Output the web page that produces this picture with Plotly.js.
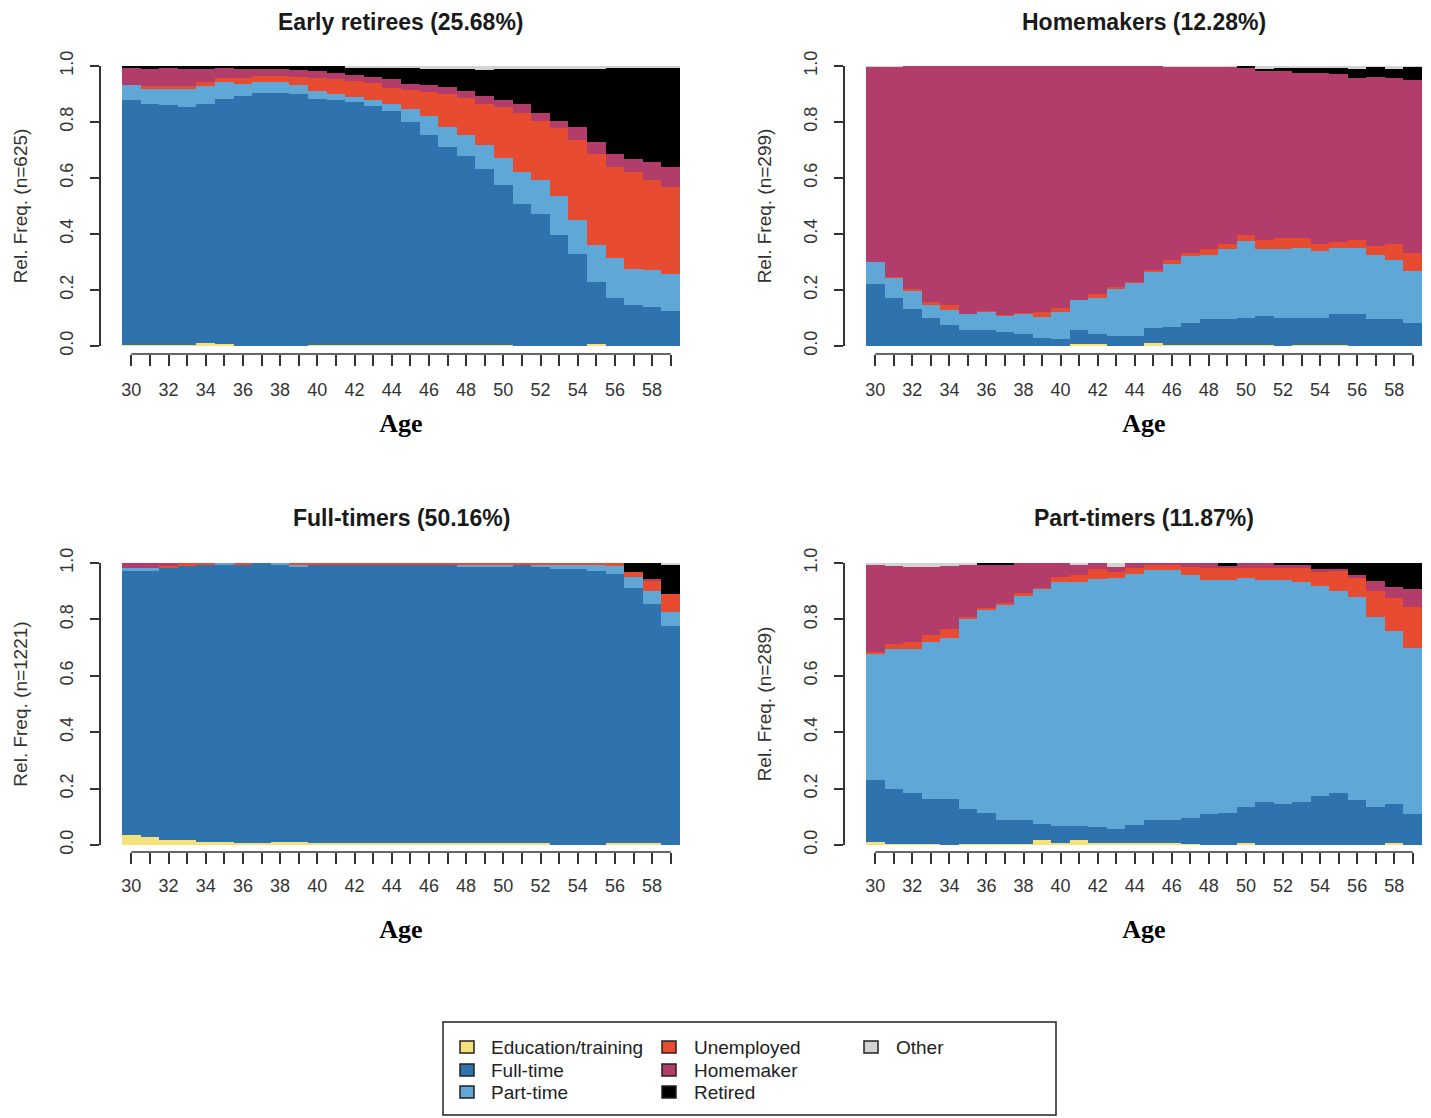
<!DOCTYPE html>
<html>
<head>
<meta charset="utf-8">
<script src="https://cdn.plot.ly/plotly-3.0.1.min.js"></script>
<style>html,body{margin:0;padding:0;background:#fff;overflow:hidden;}#chart{width:1431px;height:1118px;}</style>
</head>
<body>
<div id="chart"></div>
<script>
// ---------- data ----------
const ages = [30,31,32,33,34,35,36,37,38,39,40,41,42,43,44,45,46,47,48,49,50,51,52,53,54,55,56,57,58,59];
const stateNames = ["Education/training","Full-time","Part-time","Unemployed","Homemaker","Retired","Other"];
const stateColors = ["#F6E27A","#2E73AD","#5EA7D6","#E84C30","#B23D6A","#000000","#D3D3D3"];
const panelTitles = ["Early retirees (25.68%)","Homemakers (12.28%)","Full-timers (50.16%)","Part-timers (11.87%)"];
const yTitles = ["Rel. Freq. (n=625)","Rel. Freq. (n=299)","Rel. Freq. (n=1221)","Rel. Freq. (n=289)"];

// Early retirees
const er_edu = [.004,.004,.004,.004,.010,.006,0,0,0,0,.004,.004,.004,.004,.004,.004,.004,.004,.004,.004,.004,0,0,0,0,.006,0,0,0,0];
const er_ft  = [.874,.862,.856,.849,.855,.875,.893,.905,.905,.899,.877,.874,.868,.853,.835,.797,.751,.706,.674,.628,.570,.508,.471,.397,.328,.224,.171,.147,.141,.125];
const er_pt  = [.053,.053,.059,.066,.063,.063,.044,.039,.039,.033,.029,.021,.017,.020,.024,.044,.066,.072,.077,.085,.098,.113,.121,.138,.123,.129,.145,.129,.129,.132];
const er_un  = [0,.009,.009,.009,.016,.012,.021,.020,.020,.029,.046,.053,.057,.063,.059,.071,.087,.117,.132,.148,.181,.212,.211,.242,.283,.327,.322,.345,.324,.310];
const er_hm  = [.063,.060,.066,.060,.044,.038,.032,.024,.024,.024,.026,.024,.022,.021,.030,.021,.023,.026,.023,.028,.024,.032,.030,.028,.048,.042,.046,.048,.064,.071];
const er_ret = [.006,.012,.006,.012,.012,.006,.010,.012,.012,.015,.018,.024,.027,.034,.043,.058,.060,.066,.081,.092,.114,.123,.155,.183,.209,.263,.312,.327,.338,.358];
const er_oth = [0,0,0,0,0,0,0,0,0,0,0,0,.005,.005,.005,.005,.009,.009,.009,.015,.009,.012,.012,.012,.009,.009,.004,.004,.004,.004];

// Homemakers
const hm_edu = [0,0,0,0,0,0,0,0,0,0,0,.006,.006,0,0,.010,.004,.004,.004,.004,.004,.004,0,.004,.004,.004,0,0,0,0];
const hm_ft  = [.223,.172,.132,.101,.075,.056,.056,.049,.042,.030,.024,.050,.038,.037,.037,.053,.065,.079,.091,.091,.097,.103,.101,.097,.097,.111,.115,.095,.095,.083];
const hm_pt  = [.077,.071,.066,.045,.052,.057,.066,.059,.073,.073,.096,.108,.128,.168,.188,.204,.225,.237,.231,.250,.275,.241,.247,.250,.238,.236,.236,.231,.211,.184];
const hm_un  = [0,.005,.004,.012,.019,0,.003,.002,.004,.017,.014,0,.013,.004,.004,.006,.012,.013,.019,.020,.019,.032,.036,.033,.026,.020,.026,.031,.058,.065];
const hm_hm  = [.698,.750,.798,.842,.854,.887,.875,.890,.881,.880,.866,.836,.815,.791,.771,.727,.692,.665,.653,.633,.599,.602,.598,.592,.611,.599,.581,.605,.594,.618];
const hm_ret = [0,0,0,0,0,0,0,0,0,0,0,0,0,0,0,0,0,0,0,0,.006,.008,.013,.019,.019,.025,.032,.036,.032,.048];
const hm_oth = [.002,.002,0,0,0,0,0,0,0,0,0,0,0,0,0,0,.002,.002,.002,.002,0,.010,.005,.005,.005,.005,.010,.002,.010,.002];

// Full-timers
const ft_edu = [.037,.030,.019,.019,.012,.012,.006,.006,.012,.012,.006,.006,.006,.006,.006,.006,.006,.006,.006,.006,.006,.006,.006,0,0,0,.006,.006,.006,0];
const ft_ft  = [.936,.943,.962,.972,.983,.983,.989,.994,.983,.973,.989,.989,.989,.989,.989,.989,.989,.989,.981,.981,.981,.989,.980,.979,.979,.971,.955,.904,.849,.778];
const ft_pt  = [.008,.008,0,0,0,.005,0,0,.005,.010,0,0,0,0,0,0,0,0,.008,.008,.008,0,.009,.015,.015,.023,.027,.039,.044,.047];
const ft_un  = [0,0,.010,.009,.005,0,.005,0,0,.005,.005,.005,.005,.005,.005,.005,.005,.005,.005,.005,.005,.005,.005,.006,.006,.006,.012,.018,.038,.065];
const ft_hm  = [.019,.019,.009,0,0,0,0,0,0,0,0,0,0,0,0,0,0,0,0,0,0,0,0,0,0,0,0,0,.006,0];
const ft_ret = [0,0,0,0,0,0,0,0,0,0,0,0,0,0,0,0,0,0,0,0,0,0,0,0,0,0,0,.033,.057,.103];
const ft_oth = [0,0,0,0,0,0,0,0,0,0,0,0,0,0,0,0,0,0,0,0,0,0,0,0,0,0,0,0,0,.007];

// Part-timers
const pt_edu = [.011,.005,.005,.005,0,.005,.005,.005,.005,.019,.008,.019,.008,.008,.008,.008,.008,.004,0,0,.008,0,0,0,0,0,0,0,.008,0];
const pt_ft  = [.221,.195,.181,.157,.162,.124,.110,.085,.085,.057,.058,.047,.056,.050,.062,.082,.082,.093,.109,.115,.127,.153,.147,.153,.173,.186,.161,.135,.139,.109];
const pt_pt  = [.448,.494,.508,.557,.571,.675,.721,.763,.794,.832,.868,.868,.879,.888,.890,.885,.885,.860,.831,.825,.811,.787,.793,.781,.747,.715,.720,.675,.612,.591];
const pt_un  = [.006,.018,.025,.026,.033,.003,.003,.004,.008,.005,.018,.023,.035,.023,.023,.020,.020,.030,.043,.041,.037,.043,.043,.049,.047,.072,.065,.091,.116,.143];
const pt_hm  = [.310,.279,.266,.240,.225,.188,.156,.138,.108,.087,.048,.038,.022,.018,.017,.005,.005,.013,.017,.010,.017,.017,.012,.012,.012,.006,.011,.036,.041,.064];
const pt_ret = [0,0,0,0,0,0,.005,.005,0,0,0,0,0,0,0,0,0,0,0,.009,0,0,.005,.005,.021,.021,.043,.063,.084,.093];
const pt_oth = [.004,.009,.015,.015,.009,.005,0,0,0,0,0,.005,0,.013,0,0,0,0,0,0,0,0,0,0,0,0,0,0,0,0];

const panels = [
  [er_edu, er_ft, er_pt, er_un, er_hm, er_ret, er_oth],
  [hm_edu, hm_ft, hm_pt, hm_un, hm_hm, hm_ret, hm_oth],
  [ft_edu, ft_ft, ft_pt, ft_un, ft_hm, ft_ret, ft_oth],
  [pt_edu, pt_ft, pt_pt, pt_un, pt_hm, pt_ret, pt_oth]
];

// ---------- layout geometry (pixels) ----------
const W = 1431, H = 1118;
const px = v => v / W;
const py = v => 1 - v / H;
const plotX = [[122,680],[866,1422],[122,680],[866,1422]];
const plotY = [[66,346],[66,346],[563,845],[563,845]];
const yAxisPos = [100, 844, 100, 844];
const xAxisPos = [354, 354, 852, 852];
const xLabStandoff = [8, 8, 6, 6];
const xTitleStandoff = [15, 15, 25, 25];
const titleY = [22, 22, 518, 518];

const SANS = "Liberation Sans, Arial, sans-serif";
const SERIF = "Liberation Serif, Times New Roman, serif";
const AX = "#333333";

const traces = [];
panels.forEach((series, p) => {
  const sfx = p === 0 ? "" : String(p + 1);
  series.forEach((vals, s) => {
    traces.push({
      type: "bar",
      x: ages,
      y: vals,
      name: stateNames[s],
      xaxis: "x" + sfx,
      yaxis: "y" + sfx,
      marker: {color: stateColors[s], line: {width: 0}},
      showlegend: false,
      hoverinfo: "x+y+name"
    });
  });
});

const layout = {
  width: W, height: H,
  margin: {l: 0, r: 0, t: 0, b: 0},
  paper_bgcolor: "#ffffff",
  plot_bgcolor: "#ffffff",
  barmode: "stack",
  bargap: 0,
  showlegend: false,
  font: {family: SANS, color: AX},
  annotations: [],
  shapes: []
};

for (let p = 0; p < 4; p++) {
  const sfx = p === 0 ? "" : String(p + 1);
  layout["xaxis" + sfx] = {
    domain: [px(plotX[p][0]), px(plotX[p][1])],
    range: [29.5, 59.5],
    anchor: "free",
    position: py(xAxisPos[p]),
    tickmode: "linear", tick0: 30, dtick: 2,
    ticks: "outside", ticklen: 11, tickwidth: 1.5, tickcolor: AX,
    minor: {tick0: 30, dtick: 1, ticks: "outside", ticklen: 11, tickwidth: 1.5, tickcolor: AX},
    ticklabelstandoff: xLabStandoff[p],
    tickfont: {family: SANS, size: 18, color: AX},
    showgrid: false, zeroline: false, showline: false,
    fixedrange: true,
    title: {text: "Age", font: {family: SERIF, size: 26, weight: "bold", color: "#000"}, standoff: xTitleStandoff[p]}
  };
  layout["yaxis" + sfx] = {
    domain: [py(plotY[p][1]), py(plotY[p][0])],
    range: [0, 1],
    anchor: "free",
    position: px(yAxisPos[p]),
    tickmode: "linear", tick0: 0, dtick: 0.2, tickformat: ".1f",
    tickangle: -90,
    ticks: "outside", ticklen: 9, tickwidth: 1.5, tickcolor: AX,
    ticklabelstandoff: 10,
    tickfont: {family: SANS, size: 18, color: AX},
    showline: true, linecolor: AX, linewidth: 1.5,
    showgrid: false, zeroline: false,
    fixedrange: true,
    title: {text: yTitles[p], font: {family: SANS, size: 19, color: AX}, standoff: 23}
  };
  // x axis line spanning first to last age (R style)
  layout.shapes.push({
    type: "line", xref: "x" + sfx, yref: "paper",
    x0: ages[0], x1: ages[ages.length - 1],
    y0: py(xAxisPos[p]), y1: py(xAxisPos[p]),
    line: {color: AX, width: 1.5}
  });
  layout.annotations.push({
    text: panelTitles[p],
    xref: "paper", yref: "paper",
    x: px((plotX[p][0] + plotX[p][1]) / 2), y: py(titleY[p]),
    xanchor: "center", yanchor: "middle",
    showarrow: false,
    font: {family: SANS, size: 23, weight: "bold", color: "#1a1a1a"}
  });
}

// ---------- legend (R style: 3 columns, filled column-wise) ----------
layout.shapes.push({
  type: "rect", xref: "paper", yref: "paper",
  x0: px(443), x1: px(1056), y0: py(1115), y1: py(1022),
  line: {color: "#222", width: 1.5}, fillcolor: "rgba(0,0,0,0)"
});
const legSquareX = [467, 669, 871];
const legTextX = [489, 692, 894];
const legRowY = [1047, 1070, 1092];
stateNames.forEach((nm, s) => {
  const col = Math.floor(s / 3), row = s % 3;
  const cx = legSquareX[col], cy = legRowY[row];
  layout.shapes.push({
    type: "rect", xref: "paper", yref: "paper",
    x0: px(cx - 7), x1: px(cx + 7), y0: py(cy + 6), y1: py(cy - 6),
    line: {color: "#222", width: 1.5}, fillcolor: stateColors[s]
  });
  layout.annotations.push({
    text: nm, xref: "paper", yref: "paper",
    x: px(legTextX[col]), y: py(cy),
    xanchor: "left", yanchor: "middle", showarrow: false,
    font: {family: SANS, size: 19, color: "#222"}
  });
});

Plotly.newPlot("chart", traces, layout, {displayModeBar: false, responsive: false});
</script>
</body>
</html>
